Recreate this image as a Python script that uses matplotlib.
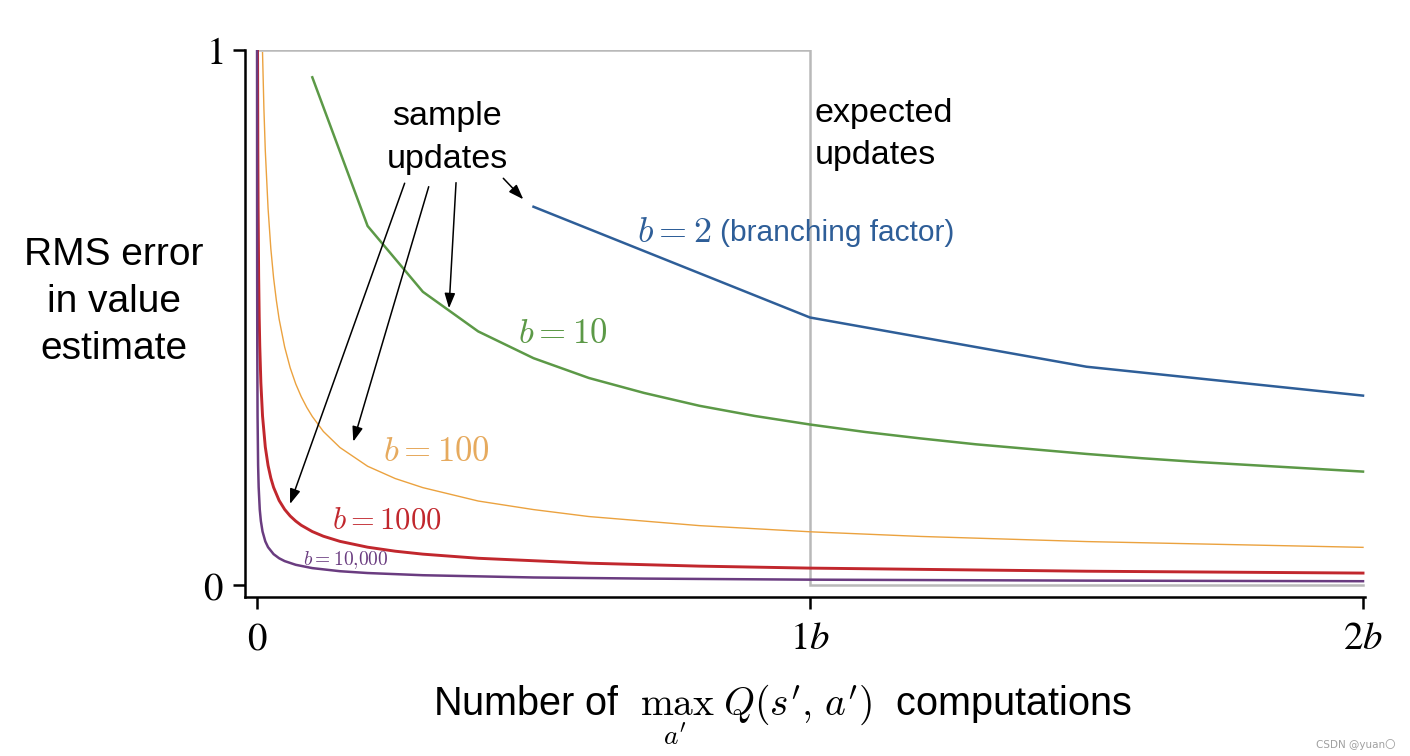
import matplotlib
matplotlib.use("Agg")
import matplotlib.pyplot as plt

# expected updates: full error until b computations are done, then exact
EXPECTED_X = [0.0, 1.0, 1.0, 2.0]
EXPECTED_Y = [1.0, 1.0, 0.0, 0.0]

# sample updates, x in units of b computations
B2_X = [0.5, 1.0, 1.5, 2.0]
B2_Y = [0.707, 0.500, 0.408, 0.354]

B10_X = [0.1, 0.2, 0.3, 0.4, 0.5, 0.6, 0.7, 0.8, 0.9, 1.0,
         1.1, 1.2, 1.3, 1.4, 1.5, 1.6, 1.7, 1.8, 1.9, 2.0]
B10_Y = [0.949, 0.671, 0.548, 0.474, 0.424, 0.387, 0.359, 0.335, 0.316, 0.300,
         0.286, 0.274, 0.263, 0.254, 0.245, 0.237, 0.230, 0.224, 0.218, 0.212]

B100_X = [0.01, 0.0125, 0.015, 0.02, 0.025, 0.03, 0.035, 0.04, 0.05, 0.06, 0.07, 0.08,
          0.09, 0.10, 0.12, 0.15, 0.20, 0.25, 0.30, 0.40, 0.50, 0.60, 0.80, 1.00,
          1.20, 1.50, 2.00]
B100_Y = [0.995, 0.890, 0.812, 0.704, 0.629, 0.574, 0.532, 0.497, 0.445, 0.406, 0.376, 0.352,
          0.332, 0.315, 0.287, 0.257, 0.222, 0.199, 0.182, 0.157, 0.141, 0.128, 0.111, 0.0995,
          0.0908, 0.0812, 0.0704]

B1000_X = [0.001, 0.0015, 0.002, 0.003, 0.004, 0.005, 0.007, 0.010, 0.015, 0.020, 0.025,
           0.030, 0.040, 0.050, 0.060, 0.070, 0.080, 0.100, 0.120, 0.150, 0.200, 0.250,
           0.300, 0.400, 0.600, 0.800, 1.000, 1.500, 2.000]
B1000_Y = [0.9995, 0.816, 0.707, 0.577, 0.500, 0.447, 0.378, 0.316, 0.258, 0.2235, 0.200,
           0.1825, 0.158, 0.1413, 0.129, 0.1195, 0.1117, 0.0999, 0.0912, 0.0816, 0.0707, 0.0632,
           0.0577, 0.050, 0.0408, 0.0353, 0.0316, 0.0258, 0.0223]

B10000_X = [0.0001, 0.0002, 0.0003, 0.0005, 0.001, 0.002, 0.003, 0.005, 0.007, 0.010,
            0.015, 0.020, 0.030, 0.040, 0.050, 0.070, 0.100, 0.150, 0.200, 0.300,
            0.500, 0.700, 1.000, 1.500, 2.000]
B10000_Y = [1.0, 0.707, 0.577, 0.447, 0.316, 0.224, 0.183, 0.141, 0.1195, 0.100,
            0.0816, 0.0707, 0.0577, 0.050, 0.0447, 0.0378, 0.0316, 0.0258, 0.0224, 0.0183,
            0.0141, 0.0120, 0.0100, 0.0082, 0.0071]

X_TICKS = [0, 1, 2]
X_TICK_LABELS = ["$0$", "$1b$", "$2b$"]
Y_TICKS = [0, 1]
Y_TICK_LABELS = ["$0$", "$1$"]

BLUE = "#2E5E98"
GREEN = "#5C9947"
ORANGE = "#EBA23F"
ORANGE_TEXT = "#E6AA5E"
RED = "#C1272D"
PURPLE = "#6A3C80"
GRAY = "#B9B9B9"

plt.rcParams["font.family"] = ["Liberation Sans", "DejaVu Sans"]

fig = plt.figure(figsize=(14.1, 7.56), dpi=100)
ax = fig.add_axes([245 / 1410, 1 - 597 / 756, (1365 - 245) / 1410, (597 - 50) / 756])
ax.set_xlim(-0.0217, 2.0036)
ax.set_ylim(-0.0224, 1.0)

ax.plot(EXPECTED_X, EXPECTED_Y, color=GRAY, lw=1.8, solid_joinstyle="miter")
ax.plot(B2_X, B2_Y, color=BLUE, lw=1.8)
ax.plot(B10_X, B10_Y, color=GREEN, lw=1.8)
ax.plot(B100_X, B100_Y, color=ORANGE, lw=1.0)
ax.plot(B1000_X, B1000_Y, color=RED, lw=2.1)
ax.plot(B10000_X, B10000_Y, color=PURPLE, lw=1.8)

for side in ("top", "right"):
    ax.spines[side].set_visible(False)
for side in ("left", "bottom"):
    ax.spines[side].set_linewidth(1.8)

ax.set_xticks(X_TICKS)
ax.set_xticklabels(X_TICK_LABELS, fontsize=28, math_fontfamily="stix")
ax.set_yticks(Y_TICKS)
ax.set_yticklabels(Y_TICK_LABELS, fontsize=28, math_fontfamily="stix")
ax.tick_params(axis="x", direction="out", length=8.5, width=1.8, pad=9)
ax.tick_params(axis="y", direction="out", length=8.5, width=1.8, pad=7)

# curve labels
ax.text(0.687, 0.658, "$b=2$", color=BLUE, fontsize=26, math_fontfamily="cm", va="center")
ax.text(0.837, 0.658, "(branching factor)", color=BLUE, fontsize=21.5, va="center")
ax.text(0.472, 0.471, "$b=10$", color=GREEN, fontsize=25, math_fontfamily="cm", va="center")
ax.text(0.228, 0.249, "$b=100$", color=ORANGE_TEXT, fontsize=25, math_fontfamily="cm", va="center")
ax.text(0.136, 0.120, "$b=1000$", color=RED, fontsize=22, math_fontfamily="cm", va="center")
ax.text(0.083, 0.047, "$b=10{,}000$", color=PURPLE, fontsize=14, math_fontfamily="cm", va="center")

ax.text(0.3436, 0.836, "sample\nupdates", fontsize=24.5, ha="center", va="center", linespacing=1.5)
ax.text(1.009, 0.842, "expected\nupdates", fontsize=24.5, ha="left", va="center", linespacing=1.42)

# arrows from "sample updates" to the curves
arrows = [
    ((0.267, 0.751), (0.0597, 0.1514)),
    ((0.3105, 0.7445), (0.1741, 0.2679)),
    ((0.3599, 0.752), (0.3472, 0.5172)),
    ((0.4454, 0.7602), (0.4816, 0.7209)),
]
for start, end in arrows:
    ax.annotate("", xy=end, xytext=start,
                arrowprops=dict(arrowstyle="-|>,head_length=0.45,head_width=0.16",
                                mutation_scale=20, color="black", lw=1.1,
                                shrinkA=0, shrinkB=0))

fig.text(114 / 1410, 1 - 302 / 756, "RMS error\nin value\nestimate", fontsize=28,
         ha="center", va="center", linespacing=1.38)
fig.text(783 / 1410, 1 - 716 / 756,
         r"Number of  $\max_{a'}\;Q(s',\, a')$  computations",
         fontsize=28.5, ha="center", va="baseline", math_fontfamily="cm")
fig.text(1395 / 1410, 1 - 745 / 756, "CSDN @yuan〇", fontsize=7.5, color="#A0A0A0",
         ha="right", va="center", family=["DejaVu Sans", "Noto Sans CJK SC"])

fig.savefig("out.png", dpi=100, facecolor="white")
